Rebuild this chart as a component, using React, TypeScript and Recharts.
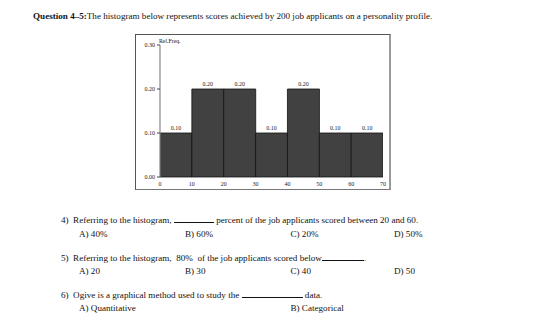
import React from 'react';
import { BarChart, Bar, XAxis, YAxis, LabelList } from 'recharts';

const scoreTicks = [0, 10, 20, 30, 40, 50, 60, 70];
const binStarts = [0, 10, 20, 30, 40, 50, 60];
const relFreq = [0.1, 0.2, 0.2, 0.1, 0.2, 0.1, 0.1];
const freqTicks = [0, 0.1, 0.2, 0.3];

// each bar sits in the middle of its 10-point bin
const data = binStarts.map((start, i) => ({ mid: start + 5, freq: relFreq[i] }));

const font = '"Liberation Serif", "Times New Roman", serif';
const txt: React.CSSProperties = {
  position: 'absolute',
  whiteSpace: 'nowrap',
  fontFamily: font,
  fontSize: 9.1,
  color: '#111',
  lineHeight: '10px',
};

const Blank = ({ w }: { w: number }) => (
  <span style={{ display: 'inline-block', width: w, borderBottom: '0.8px solid #111', height: 7 }} />
);

const T = ({ x, y, children, style }: any) => (
  <div style={{ ...txt, left: x, top: y - 5, ...style }}>{children}</div>
);

export default function App() {
  return (
    <div style={{ position: 'absolute', left: 0, top: 0, width: 533, height: 327, background: '#fff', overflow: 'hidden' }}>
      <T x={33} y={15.5}>
        <b>Question 4–5:</b>The histogram below represents scores achieved by 200 job applicants on a personality profile.
      </T>

      {/* chart frame */}
      <div
        style={{
          position: 'absolute',
          left: 135,
          top: 34,
          width: 253,
          height: 154,
          borderTop: '1px solid #555',
          borderLeft: '1px solid #555',
          borderBottom: '1px solid #777',
          borderRight: '2px solid #999',
        }}
      >
        <BarChart
          width={253}
          height={154}
          data={data}
          barCategoryGap={0}
          margin={{ top: 10, right: 6, bottom: 1, left: 4 }}
        >
          <XAxis
            dataKey="mid"
            type="number"
            domain={[0, 70]}
            ticks={scoreTicks}
            allowDataOverflow
            height={11}
            axisLine={false}
            tickLine={false}
            tickSize={2}
            tickMargin={2.5}
            tick={{ fontSize: 6, fill: '#222', fontFamily: font }}
          />
          <YAxis
            domain={[0, 0.3]}
            ticks={freqTicks}
            width={20}
            tickSize={3}
            tickMargin={2}
            axisLine={{ stroke: '#888', strokeWidth: 1.2 }}
            tickLine={{ stroke: '#444' }}
            tickFormatter={(v: number) => v.toFixed(2)}
            tick={{ fontSize: 6, fill: '#222', fontFamily: font }}
          />
          <Bar dataKey="freq" fill="#414141" stroke="#111" strokeWidth={0.8} isAnimationActive={false}>
            <LabelList
              dataKey="freq"
              position="top"
              offset={3.5}
              formatter={(v: any) => Number(v).toFixed(2)}
              style={{ fontSize: 6, fill: '#222', fontFamily: font }}
            />
          </Bar>
        </BarChart>
        <div style={{ ...txt, fontSize: 5.8, left: 23, top: 1 }}>Rel.Freq.</div>
      </div>

      <T x={61} y={220}>
        4)&nbsp; Referring to the histogram, <Blank w={40} /> percent of the job applicants scored between 20 and 60.
      </T>
      <T x={79} y={234.3}>A) 40%</T>
      <T x={185} y={234.3}>B) 60%</T>
      <T x={290.5} y={234.3}>C) 20%</T>
      <T x={394} y={234.3}>D) 50%</T>

      <T x={61} y={257.7}>
        5)&nbsp; Referring to the histogram,&nbsp; 80%&nbsp; of the job applicants scored below<Blank w={42} />.
      </T>
      <T x={79} y={270.5}>A) 20</T>
      <T x={185} y={270.5}>B) 30</T>
      <T x={290.5} y={270.5}>C) 40</T>
      <T x={394} y={270.5}>D) 50</T>

      <T x={61} y={294.5}>
        6)&nbsp; Ogive is a graphical method used to study the <Blank w={61} /> data.
      </T>
      <T x={79} y={307.7}>A) Quantitative</T>
      <T x={290.5} y={307.7}>B) Categorical</T>
    </div>
  );
}
